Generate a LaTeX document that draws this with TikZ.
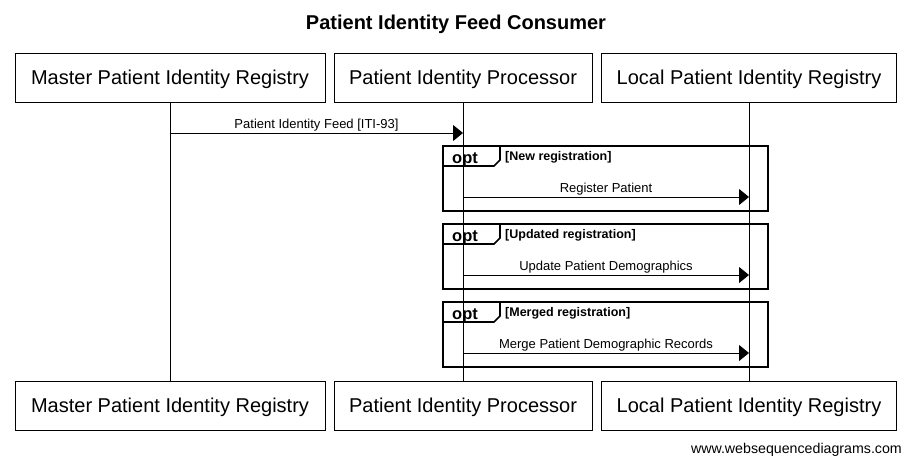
\documentclass[tikz,border=0pt]{standalone}
\usepackage{fontspec}
\setmainfont{Liberation Sans}
\usetikzlibrary{arrows.meta}

\tikzset{
  actor/.style={draw, line width=1pt, minimum width=#1, minimum height=49pt,
    inner sep=0pt, text height=15pt, text depth=1pt, font=\fontsize{20}{24}\selectfont},
  msg/.style={-{Triangle[length=10pt,width=16pt]}, line width=0.9pt},
  msglabel/.style={midway, above, inner sep=1pt, font=\fontsize{13}{15}\selectfont},
  optframe/.style={line width=1.7pt},
  lifeline/.style={line width=0.9pt}
}

\begin{document}
\begin{tikzpicture}[x=1pt,y=-1pt]
\def\xM{170}
\def\xP{463}
\def\xL{749}
\def\yT{77.5}
\def\yB{405.5}
\useasboundingbox (0,0) rectangle (911,463);

%title
\node[anchor=base, font=\bfseries\fontsize{20}{24}\selectfont] (title) at (456,29) {Patient Identity Feed Consumer};

%actors top and bottom
\node[actor=310pt] (mpr) at (\xM,\yT) {Master Patient Identity Registry};
\node[actor=258pt] (pip) at (\xP,\yT) {Patient Identity Processor};
\node[actor=295pt] (lpr) at (\xL,\yT) {Local Patient Identity Registry};
\node[actor=310pt] (mprb) at (\xM,\yB) {Master Patient Identity Registry};
\node[actor=258pt] (pipb) at (\xP,\yB) {Patient Identity Processor};
\node[actor=295pt] (lprb) at (\xL,\yB) {Local Patient Identity Registry};

%opt frames
\foreach \i/\y/\cond/\txt in {1/146/New registration/Register Patient,
    2/224/Updated registration/Update Patient Demographics,
    3/302/Merged registration/Merge Patient Demographic Records}{
  \draw[optframe] (443,\y) rectangle (768,\y+65);
  \draw[optframe] (443,\y+20) -- (494,\y+20) -- (500,\y+14) -- (500,\y);
  \node[anchor=base west, inner sep=0pt, font=\bfseries\fontsize{16.5}{20}\selectfont] (opt\i) at (452,\y+17) {opt};
  \node[anchor=base west, inner sep=0pt, font=\bfseries\fontsize{12.5}{15}\selectfont] (cond\i) at (505,\y+14) {[\cond]};
  \coordinate (ps\i) at (\xP,\y+51);
  \coordinate (pl\i) at (\xL,\y+51);
  \draw[msg] (ps\i) -- (pl\i) node[msglabel] {\txt};
}

%lifelines
\draw[lifeline] (mpr.south) -- (mprb.north);
\draw[lifeline] (pip.south) -- (pipb.north);
\draw[lifeline] (lpr.south) -- (lprb.north);

%feed message
\coordinate (feedA) at (\xM,133);
\coordinate (feedB) at (\xP,133);
\draw[msg] (feedA) -- (feedB) node[msglabel] {Patient Identity Feed [ITI-93]};

%footer
\node[anchor=base east, inner sep=0pt, font=\fontsize{14.2}{16}\selectfont] (www) at (902,453) {www.websequencediagrams.com};
\end{tikzpicture}
\end{document}
